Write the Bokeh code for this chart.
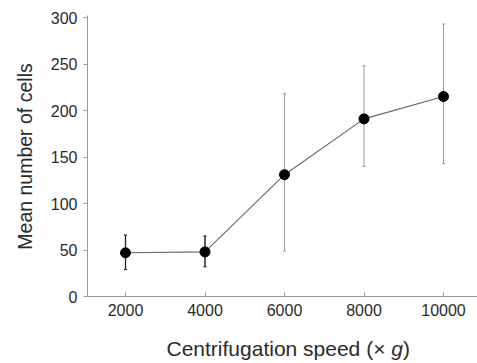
import math
from bokeh.plotting import figure
from bokeh.models import ColumnDataSource, Range1d, Label, Whisker, TeeHead, FixedTicker
from bokeh.embed import file_html
from bokeh.resources import INLINE

speed = [2000, 4000, 6000, 8000, 10000]
mean_cells = [47, 48, 131, 191, 215]
err_low = [29, 32, 49, 140, 143]
err_high = [66, 65, 218, 248, 293]
y_ticks = [0, 50, 100, 150, 200, 250, 300]
x_ticks = [2000, 4000, 6000, 8000, 10000]

FONT = "Liberation Sans"
X_LEFT, X_RIGHT = 1044, 10855.3
Y_TOP = 302.2

p = figure(width=477, height=363, output_backend="svg", toolbar_location=None,
           x_range=Range1d(-1144.7, X_RIGHT), y_range=Range1d(-72.0, 318.3),
           min_border_left=0, min_border_right=0, min_border_top=0, min_border_bottom=0)
p.outline_line_color = None
p.xgrid.grid_line_color = None
p.ygrid.grid_line_color = None
p.background_fill_color = "white"

src = ColumnDataSource(dict(x=speed, y=mean_cells, lo=err_low, hi=err_high))

w = Whisker(source=src, base="x", lower="lo", upper="hi", dimension="height",
            line_color="#9a9a9a", line_width=1,
            lower_head=TeeHead(size=3, line_color="#9a9a9a"),
            upper_head=TeeHead(size=3, line_color="#9a9a9a"))
p.add_layout(w)

dark = ColumnDataSource(dict(x=speed[:2], lo=err_low[:2], hi=err_high[:2]))
w2 = Whisker(source=dark, base="x", lower="lo", upper="hi", dimension="height",
             line_color="#222222", line_width=1.3,
             lower_head=TeeHead(size=3, line_color="#222222"),
             upper_head=TeeHead(size=3, line_color="#222222"))
p.add_layout(w2)

p.line("x", "y", source=src, line_color="#666666", line_width=1.1)
p.scatter("x", "y", source=src, size=10, fill_color="black", line_color="black")

for ax in (p.xaxis, p.yaxis):
    ax.axis_line_color = "#9a9a9a"
    ax.major_tick_line_color = "#9a9a9a"
    ax.minor_tick_line_color = None
    ax.major_label_text_font = FONT
    ax.major_label_text_font_size = "16px"
    ax.major_label_text_color = "#2a2a2a"
    ax.axis_label = None

p.xaxis.ticker = FixedTicker(ticks=x_ticks)
p.yaxis.ticker = FixedTicker(ticks=y_ticks)
p.xaxis.fixed_location = 0
p.yaxis.fixed_location = X_LEFT
p.xaxis.bounds = (X_LEFT, X_RIGHT)
p.yaxis.bounds = (0, Y_TOP)
p.xaxis.major_tick_in = 4
p.xaxis.major_tick_out = 0
p.yaxis.major_tick_in = 0
p.yaxis.major_tick_out = 4
p.xaxis.major_label_standoff = 7
p.yaxis.major_label_standoff = 6

# y axis title
p.add_layout(Label(x=24, y=363 - 156, x_units="screen", y_units="screen",
                   text="Mean number of cells", angle=math.pi / 2,
                   text_align="center", text_baseline="middle",
                   text_font=FONT, text_font_size="19.5px", text_color="#2a2a2a"))

# x axis title with italic g
lbl_y = 15
start = 166
fs = 21
w_prefix = 10.700 * fs
w_g = 0.556 * fs
common = dict(x_units="screen", y_units="screen", y=lbl_y, text_baseline="middle",
              text_font=FONT, text_font_size=f"{fs}px", text_color="#2a2a2a")
p.add_layout(Label(x=start, text="Centrifugation speed (\u00d7 ", text_align="left", **common))
p.add_layout(Label(x=start + w_prefix, text="g", text_font_style="italic", text_align="left", **common))
p.add_layout(Label(x=start + w_prefix + w_g, text=")", text_align="left", **common))

open("out.html", "w").write(file_html(p, INLINE))
